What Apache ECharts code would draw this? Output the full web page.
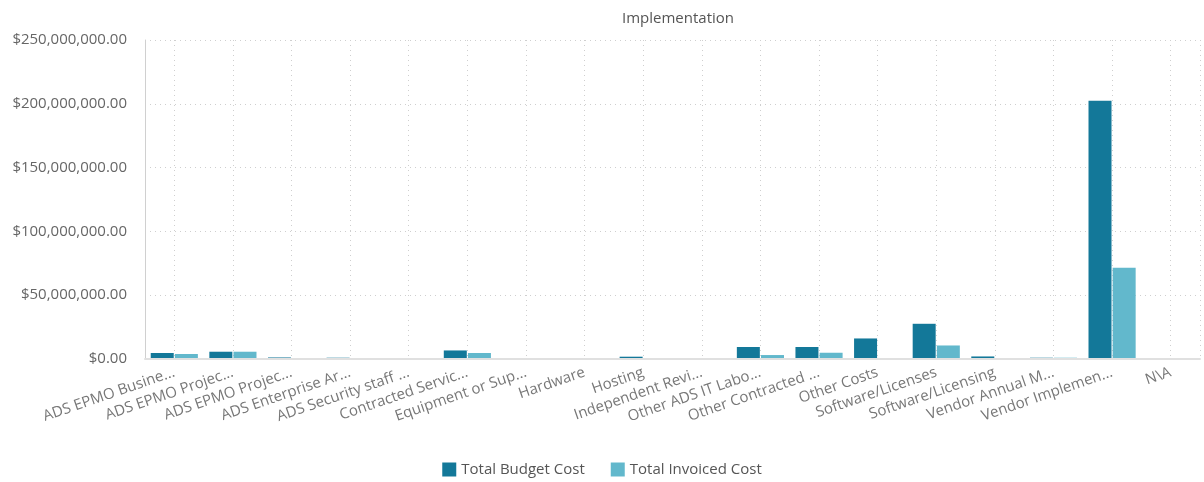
<!DOCTYPE html>
<html lang="en">
<head>
    <meta charset="UTF-8">
    <title>Implementation</title>
    <script src="https://cdn.jsdelivr.net/npm/echarts@6/dist/echarts.min.js"></script>
    <style>
        body {
            margin: 0;
        }
    </style>
</head>
<body>
    <div id="chart" style="width: 1204px; height: 482px;"></div>
    <script type="text/javascript">
        const categories = [
            'ADS EPMO Busine...', 'ADS EPMO Projec...', 'ADS EPMO Projec...', 'ADS Enterprise Ar...',
            'ADS Security staff ...', 'Contracted Servic...', 'Equipment or Sup...', 'Hardware',
            'Hosting', 'Independent Revi...', 'Other ADS IT Labo...', 'Other Contracted ...',
            'Other Costs', 'Software/Licenses', 'Software/Licensing', 'Vendor Annual M...',
            'Vendor Implemen...', 'N\\A'
        ];
        const budgetCost = [
            4.7e6, 5.7e6, 1.2e6, 1.0e6, 0, 6.7e6, 0, 0,
            1.8e6, 0, 9.4e6, 9.4e6, 16.1e6, 27.6e6, 2.0e6, 1.0e6,
            202.4e6, 0
        ];
        const invoicedCost = [
            3.9e6, 5.7e6, 0, 0, 0, 4.7e6, 0, 0,
            0.8e6, 0, 3.1e6, 4.9e6, 0, 10.6e6, 0, 1.0e6,
            71.6e6, 0
        ];

        const font = '"Open Sans", sans-serif';
        const money = v => '$' + v.toLocaleString('en-US', { minimumFractionDigits: 2, maximumFractionDigits: 2 });
        const dots = { type: [1, 4], color: '#cfcfcf' };
        // half-width slots so that vertical grid lines can sit on the category centres
        const halfSlots = categories.flatMap((c, i) => [i + 'a', i + 'b']);

        let chart = echarts.init(document.getElementById('chart'), null, { renderer: 'canvas' });

        chart.setOption({
            animation: false,
            textStyle: { fontFamily: font },
            title: {
                text: 'Implementation',
                left: 617,
                top: 6,
                textStyle: { fontSize: 15, fontWeight: 'normal', color: '#555', fontFamily: font }
            },
            legend: {
                bottom: 0,
                left: 'center',
                icon: 'rect',
                itemWidth: 14,
                itemHeight: 14,
                itemGap: 26,
                data: ['Total Budget Cost', 'Total Invoiced Cost'],
                textStyle: { fontSize: 15, color: '#555', fontFamily: font }
            },
            grid: { left: 145, right: 4, top: 40, bottom: 123, containLabel: false },
            xAxis: [
                {
                    type: 'category',
                    data: categories,
                    axisLine: { lineStyle: { color: '#e0e0e0', width: 2 } },
                    axisTick: { show: false },
                    axisLabel: {
                        interval: 0,
                        rotate: 19,
                        margin: 13,
                        fontSize: 15,
                        color: '#777',
                        fontFamily: font
                    },
                    splitLine: { show: false },
                    z: 3
                },
                {
                    type: 'category',
                    data: halfSlots,
                    position: 'bottom',
                    axisLine: { show: false },
                    axisTick: { show: false },
                    axisLabel: { show: false },
                    splitLine: {
                        show: true,
                        interval: (idx) => idx % 2 === 1,
                        lineStyle: dots
                    }
                }
            ],
            yAxis: {
                type: 'value',
                min: 0,
                max: 250000000,
                interval: 50000000,
                axisLine: { show: true, lineStyle: { color: '#d0d0d0' } },
                axisTick: { show: false },
                axisLabel: {
                    margin: 18,
                    fontSize: 15,
                    color: '#666',
                    fontFamily: font,
                    formatter: money
                },
                splitLine: { lineStyle: dots }
            },
            series: [
                {
                    name: 'Total Budget Cost',
                    type: 'bar',
                    xAxisIndex: 0,
                    data: budgetCost,
                    barWidth: 23,
                    barGap: '5%',
                    itemStyle: { color: '#137899' }
                },
                {
                    name: 'Total Invoiced Cost',
                    type: 'bar',
                    xAxisIndex: 0,
                    data: invoicedCost,
                    barWidth: 23,
                    barGap: '5%',
                    itemStyle: { color: '#62b8cc' }
                }
            ]
        });
    </script>
</body>
</html>
